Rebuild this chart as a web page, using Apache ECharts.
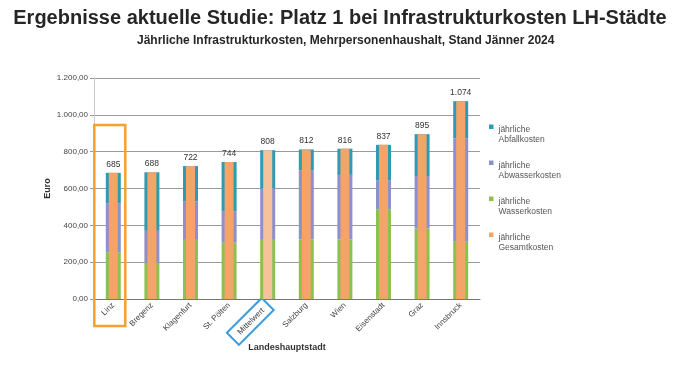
<!DOCTYPE html>
<html><head><meta charset="utf-8">
<script src="https://cdn.jsdelivr.net/npm/echarts@6/dist/echarts.min.js"></script>
<style>html,body{margin:0;padding:0;background:#fff}#c{width:680px;height:366px}</style>
</head><body><div id="c"></div>
<script>
const categories = ['Linz','Bregenz','Klagenfurt','St. Pölten','Mittelwert','Salzburg','Wien','Eisenstadt','Graz','Innsbruck'];
const wasser   = [252,197,321,306,321,324,324,487,382,311];
const abwasser = [268,173,208,169,280,373,350,156,286,562];
const abfall   = [165,318,193,269,207,115,142,194,227,201];
const gesamt   = [685,688,722,744,808,812,816,837,895,1074];
const yTicks = [0,200,400,600,800,1000,1200];
const highlightCity = 'Linz';
const averageLabel = 'Mittelwert';

const FONT = '"Liberation Sans", Arial, sans-serif';
function deNum(v, dec) {
  const s = Number(v).toFixed(dec);
  const parts = s.split('.');
  const ip = parts[0].replace(/\B(?=(\d{3})+(?!\d))/g, '.');
  return parts.length > 1 ? ip + ',' + parts[1] : ip;
}
const sq = 'path://M0,0L4.5,0L4.5,4.5L0,4.5Z M0,20L0.001,20L0,20.001Z';

const chart = echarts.init(document.getElementById('c'), null, {renderer: 'canvas'});
const option = {
  animation: false,
  backgroundColor: '#fff',
  textStyle: {fontFamily: FONT},
  title: [
    {text: 'Ergebnisse aktuelle Studie: Platz 1 bei Infrastrukturkosten LH-Städte', left: 'center', top: 3,
     textStyle: {fontFamily: FONT, fontSize: 20, fontWeight: 'bold', color: '#262626'}},
    {text: 'Jährliche Infrastrukturkosten, Mehrpersonenhaushalt, Stand Jänner 2024', left: 132, top: 30,
     textStyle: {fontFamily: FONT, fontSize: 12, fontWeight: 'bold', color: '#262626'}}
  ],
  grid: {left: 94, right: 200, top: 78, bottom: 67, containLabel: false},
  legend: {
    orient: 'vertical', left: 484, top: 119, itemWidth: 4.5, itemHeight: 21, itemGap: 15,
    data: [
      {name: 'jährliche\nAbfallkosten', icon: sq},
      {name: 'jährliche\nAbwasserkosten', icon: sq},
      {name: 'jährliche\nWasserkosten', icon: sq},
      {name: 'jährliche\nGesamtkosten', icon: sq}
    ],
    textStyle: {fontFamily: FONT, fontSize: 8.5, color: '#555', lineHeight: 10.5}
  },
  xAxis: [
    {type: 'category', data: categories, gridIndex: 0,
     axisLine: {lineStyle: {color: '#777', width: 1}}, axisTick: {show: false},
     axisLabel: {rotate: 45, fontSize: 8, color: '#444', margin: 5, interval: 0,
       formatter: v => v === averageLabel ? '{box|' + v + '}' : v,
       rich: {box: {fontSize: 8, color: '#444', borderColor: '#3a9be0', borderWidth: 2, padding: [5, 7, 4, 8]}}},
     name: 'Landeshauptstadt', nameLocation: 'middle', nameGap: 44, nameMoveOverlap: false,
     nameTextStyle: {fontFamily: FONT, fontSize: 9, fontWeight: 'bold', color: '#333'}},
    {type: 'category', data: categories, gridIndex: 0, show: false}
  ],
  yAxis: {
    type: 'value', min: yTicks[0], max: yTicks[yTicks.length - 1], interval: 200,
    axisLine: {show: true, lineStyle: {color: '#ccc'}},
    axisTick: {show: true, length: 4, lineStyle: {color: '#999'}},
    axisLabel: {fontSize: 8, color: '#444', margin: 6, formatter: v => deNum(v, 2)},
    splitLine: {lineStyle: {color: '#9a9a9a', width: 1}},
    name: 'Euro', nameLocation: 'middle', nameGap: 42, nameRotate: 90, nameMoveOverlap: false,
    nameTextStyle: {fontFamily: FONT, fontSize: 9, fontWeight: 'bold', color: '#333'}
  },
  series: [
    {name: 'jährliche\nWasserkosten', type: 'bar', stack: 's', barWidth: 15, xAxisIndex: 0, data: wasser, itemStyle: {color: '#8cc152'}},
    {name: 'jährliche\nAbwasserkosten', type: 'bar', stack: 's', barWidth: 15, xAxisIndex: 0, data: abwasser, itemStyle: {color: '#8f8fcc'}},
    {name: 'jährliche\nAbfallkosten', type: 'bar', stack: 's', barWidth: 15, xAxisIndex: 0, data: abfall, itemStyle: {color: '#2f9bb3'}},
    {name: 'jährliche\nGesamtkosten', type: 'bar', barWidth: 9, xAxisIndex: 1,
     data: gesamt.map((v, i) => categories[i] === averageLabel ? {value: v, itemStyle: {color: '#f6c29c'}} : v),
     itemStyle: {color: '#f4a468'},
     label: {show: true, position: 'top', distance: 4, fontSize: 8.5, color: '#333', formatter: p => deNum(p.value, 0)}}
  ]
};
chart.setOption(option);

const cx = chart.convertToPixel({xAxisIndex: 0}, highlightCity);
const yTop = chart.convertToPixel({yAxisIndex: 0}, 945);
const y0 = chart.convertToPixel({yAxisIndex: 0}, 0);
chart.setOption({
  graphic: [{
    type: 'rect', shape: {x: cx - 19, y: yTop, width: 31, height: y0 + 27 - yTop},
    style: {fill: 'none', stroke: '#f5a12e', lineWidth: 2.5}, z: 10
  }]
});
</script></body></html>
